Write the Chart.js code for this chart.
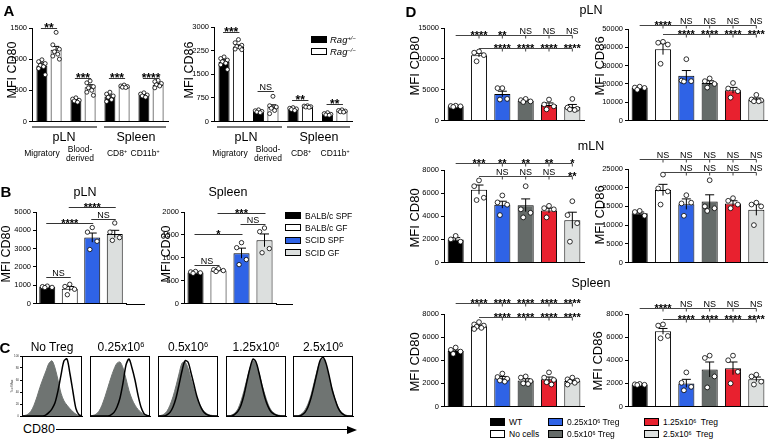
<!DOCTYPE html>
<html><head><meta charset="utf-8">
<script src="https://cdn.jsdelivr.net/npm/chart.js@4.4.1/dist/chart.umd.min.js"></script>
<style>
html,body{margin:0;padding:0;background:#fff;}
#root{position:relative;width:768px;height:440px;overflow:hidden;font-family:"Liberation Sans",Arial,Helvetica,sans-serif;color:#000;background:#fff;}
canvas{position:absolute;}
.t{position:absolute;transform:translate(-50%,-50%);white-space:nowrap;line-height:1;}
.l{position:absolute;white-space:nowrap;line-height:1;transform:translateY(-50%);}
.r{position:absolute;box-sizing:border-box;}
sup{font-size:62%;vertical-align:0;position:relative;top:-0.5em;}
</style></head><body><div id="root"></div>
<script>
// ---------------- DATA ----------------
// Panel A
const aCategories = ['Migratory', 'Blood-derived', 'CD8+', 'CD11b+'];
const aSeriesNames = ['Rag+/-', 'Rag-/-'];
const aCd80Het = [900, 340, 400, 420];
const aCd80HetSem = [40, 15, 25, 12];
const aCd80HetDots = [[990,960,930,900,880,850,750],[380,360,340,330,310],[470,440,410,390,350,320],[460,440,425,410,390]];
const aCd80Ko = [1150, 550, 560, 590];
const aCd80KoSem = [55, 40, 10, 20];
const aCd80KoDots = [[1430,1230,1160,1120,1080,1050,1000],[650,620,560,540,500,470,420],[585,570,560,550,545],[660,640,610,590,570,540]];
const aCd80Sig = ['**', '***', '***', '****'];
const aCd80SigLevel = [1500, 690, 690, 690];
const aCd86Het = [1900, 320, 390, 230];
const aCd86HetSem = [60, 20, 20, 15];
const aCd86HetDots = [[2050,2000,1950,1900,1850,1800,1650],[370,340,320,300,280],[440,420,400,380,350],[280,250,230,210,200]];
const aCd86Ko = [2380, 450, 470, 330];
const aCd86KoSem = [50, 80, 10, 15];
const aCd86KoDots = [[2600,2500,2420,2380,2350,2300,2280],[800,500,460,420,350,250],[500,490,470,460,450],[370,350,330,310,300]];
const aCd86Sig = ['***', 'NS', '**', '**'];
const aCd86SigLevel = [2840, 980, 675, 570];

// Panel B
const bCategories = ['BALB/c SPF', 'BALB/c GF', 'SCID SPF', 'SCID GF'];
const bPlnCd80 = [900, 800, 3600, 3800];
const bPlnCd80Sem = [30, 130, 250, 200];
const bPlnCd80Dots = [[950,920,880,870],[1050,930,780,480],[4150,3900,3400,2950],[4400,3900,3600,3450]];
const bPlnSig = [[0,1,1430,'NS'],[0,2,4420,'****'],[1,3,5250,'****'],[2,3,4620,'NS']];
const bSpleenCd80 = [680, 720, 1100, 1380];
const bSpleenCd80Sem = [10, 15, 110, 140];
const bSpleenCd80Dots = [[700,690,670,660],[760,740,720,700],[1330,1220,960,850],[1650,1570,1200,1110]];
const bSpleenSig = [[0,1,850,'NS'],[0,2,1520,'*'],[1,3,1980,'***'],[2,3,1740,'NS']];

// Panel C (histograms, % of max per channel bin)
const cTitles = ['No Treg', '0.25x10<sup>6</sup>', '0.5x10<sup>6</sup>', '1.25x10<sup>6</sup>', '2.5x10<sup>6</sup>'];
const histBins = [0,5,10,15,20,25,30,35,40,45,50,55,60,65,70,75,80,85,90,95,100];
const c1Gray  = [0,1,3,8,18,32,48,62,75,88,92,80,60,38,25,18,12,7,3,1,0];
const c1Black = [0,0,0,0,0,0,0,0,2,6,12,22,42,68,92,95,70,40,12,2,0];
const c2Gray  = [0,1,3,8,18,32,48,64,78,88,90,80,62,42,28,18,11,6,3,1,0];
const c2Black = [0,0,0,0,0,0,0,2,6,15,30,55,85,95,80,60,35,15,4,1,0];
const c3Gray  = [0,1,3,8,18,32,50,70,88,90,80,62,45,30,18,10,5,2,1,0,0];
const c3Black = [0,0,0,2,6,15,30,52,75,92,90,72,52,32,18,8,3,1,0,0,0];
const c4Gray  = [0,0,2,5,12,25,42,62,80,92,88,72,52,35,20,10,5,2,1,0,0];
const c4Black = [0,0,0,3,8,18,35,58,80,95,90,72,50,30,16,7,3,1,0,0,0];
const c5Gray  = [0,0,1,4,10,20,35,55,75,90,95,85,65,45,28,15,7,3,1,0,0];
const c5Black = [0,0,0,2,6,15,30,50,72,92,98,88,68,45,28,14,6,2,0,0,0];

// Panel D
const dCategories = ['WT', 'No cells', '0.25x10^6 Treg', '0.5x10^6 Treg', '1.25x10^6 Treg', '2.5x10^6 Treg'];
const dPlnCd80 = [2300, 10600, 4300, 3200, 2500, 2200];
const dPlnCd80Sem = [80, 300, 450, 150, 350, 400];
const dPlnCd80Dots = [[2400,2350,2300,2200],[11200,11000,10600,9600],[5250,5250,3500,3400],[3500,3300,3100,3000],[3400,2600,2300,1800],[3500,2100,1900,1800,1700]];
const dPlnCd80Sig1 = ['', '****', '**', 'NS', 'NS', 'NS'];
const dPlnCd80Sig2 = ['', '', '****', '****', '****', '****'];
const dPlnCd86 = [17800, 39000, 24500, 20500, 16500, 11500];
const dPlnCd86Sem = [400, 3000, 2800, 1200, 1600, 800];
const dPlnCd86Dots = [[18500,18000,17800,16800],[43000,42500,41500,31000],[33500,21800,21500,21300],[23000,21500,20000,18000],[20500,17500,16000,12500],[14000,11500,11000,10500,10500]];
const dPlnCd86Sig1 = ['', '****', 'NS', 'NS', 'NS', 'NS'];
const dPlnCd86Sig2 = ['', '', '****', '****', '****', '****'];
const dMlnCd80 = [2000, 6300, 5000, 4950, 4500, 3650];
const dMlnCd80Sem = [150, 400, 300, 550, 200, 700];
const dMlnCd80Dots = [[2300,2000,1800],[7100,6600,5600,5400],[5800,5200,5000,4100],[6600,4600,4300,3900],[4900,4700,4600,3900],[5300,4100,3400,1800]];
const dMlnCd80Sig1 = ['', '***', '**', '**', '**', '*'];
const dMlnCd80Sig2 = ['', '', 'NS', 'NS', 'NS', '**'];
const dMlnCd86 = [13200, 19400, 15600, 16300, 15800, 14100];
const dMlnCd86Sem = [300, 1500, 1400, 1800, 700, 1500];
const dMlnCd86Dots = [[13800,13500,12500],[23500,19800,19000,15500],[18000,15800,16000,12500],[22000,15000,14500,13800],[17200,16500,15500,14500],[16000,15500,15000,10000]];
const dMlnCd86Sig1 = ['', 'NS', 'NS', 'NS', 'NS', 'NS'];
const dMlnCd86Sig2 = ['', '', 'NS', 'NS', 'NS', 'NS'];
const dSpleenCd80 = [4800, 6950, 2450, 2250, 2350, 2200];
const dSpleenCd80Sem = [80, 90, 150, 150, 200, 80];
const dSpleenCd80Dots = [[5100,4900,4750,4550],[7300,7100,7000,6900,6800,6700],[2850,2550,2400,2250,2150],[2600,2500,2200,2000,1950],[2950,2500,2300,2100,1900],[2500,2350,2250,2150,2050,1900]];
const dSpleenCd80Sig1 = ['', '****', '****', '****', '****', '****'];
const dSpleenCd80Sig2 = ['', '', '****', '****', '****', '****'];
const dSpleenCd86 = [1900, 6500, 2000, 3200, 3300, 2350];
const dSpleenCd86Sem = [30, 250, 350, 650, 550, 200];
const dSpleenCd86Dots = [[1950,1920,1880,1860],[7100,7000,6100,5900],[2950,2050,1700,1400],[4400,4200,2600,1650],[4400,4000,3000,2000],[2750,2600,2150,1900]];
const dSpleenCd86Sig1 = ['', '****', 'NS', 'NS', 'NS', 'NS'];
const dSpleenCd86Sig2 = ['', '', '****', '****', '****', '****'];
const dSigLevels = { plnCd80:[13870,11730], plnCd86:[52200,47100], mlnCd80:[8580,7510], mlnCd86:[27580,24120], spCd80:[8920,7770], spCd86:[8490,7540] };

// ---------------- STYLE ----------------
const FONT = '"Liberation Sans", Arial, Helvetica, sans-serif';
const BLACK = '#000000', WHITE = '#ffffff', BLUE = '#2f63e6', DGRAY = '#656b69', RED = '#e8212f', LGRAY = '#dcdfde', HGRAY = '#6f7472';
const bColors = [BLACK, WHITE, BLUE, LGRAY];
const dColors = [BLACK, WHITE, BLUE, DGRAY, RED, LGRAY];
const JITTER = [0, -1, 1, -0.5, 0.5, -1, 1, 0];
Chart.defaults.font.family = FONT;
Chart.defaults.color = '#000';
const root = document.getElementById('root');

function addCanvas(left, top, w, h){
  const cv = document.createElement('canvas');
  cv.width = w; cv.height = h;
  cv.style.left = left + 'px'; cv.style.top = top + 'px';
  cv.style.width = w + 'px'; cv.style.height = h + 'px';
  root.appendChild(cv);
  return cv;
}

function drawSig(ctx, text, x, yy, starSize){
  ctx.fillStyle = '#000';
  ctx.textAlign = 'center';
  ctx.textBaseline = 'alphabetic';
  if (text.indexOf('*') >= 0) {
    ctx.font = 'bold ' + starSize + 'px ' + FONT;
    ctx.fillText(text, x, yy + starSize * 0.3);
  } else {
    ctx.font = '9px ' + FONT;
    ctx.fillText(text, x, yy - 2);
  }
}

const extrasPlugin = {
  id: 'extras',
  afterDatasetsDraw(chart, args, o){
    const ctx = chart.ctx, ys = chart.scales.y, ca = chart.chartArea;
    ctx.save();
    if (o.ext) {
      const by = Math.round(ca.bottom) + 0.5;
      ctx.strokeStyle = '#000'; ctx.lineWidth = 1;
      ctx.beginPath(); ctx.moveTo(ca.right, by); ctx.lineTo(ca.right + o.ext, by); ctx.stroke();
    }
    chart.data.datasets.forEach((ds, di) => {
      const meta = chart.getDatasetMeta(di);
      meta.data.forEach((bar, i) => {
        const w = bar.width, m = ds.data[i], e = ds.sem ? ds.sem[i] : 0;
        if (e) {
          const yt = ys.getPixelForValue(m + e), yb = ys.getPixelForValue(m - e);
          ctx.strokeStyle = '#000'; ctx.lineWidth = 1;
          ctx.beginPath();
          ctx.moveTo(bar.x, yt); ctx.lineTo(bar.x, yb);
          ctx.moveTo(bar.x - w * 0.28, yt); ctx.lineTo(bar.x + w * 0.28, yt);
          ctx.stroke();
        }
        const pts = ds.dots ? ds.dots[i] : null;
        if (pts) {
          pts.forEach((v, j) => {
            const px = bar.x + JITTER[j % JITTER.length] * w * 0.3;
            const py = ys.getPixelForValue(v);
            ctx.beginPath(); ctx.arc(px, py, o.dotR, 0, Math.PI * 2);
            ctx.fillStyle = '#fff'; ctx.fill();
            ctx.strokeStyle = '#000'; ctx.lineWidth = 0.8; ctx.stroke();
          });
        }
      });
    });
    (o.brackets || []).forEach(b => {
      const xa = chart.getDatasetMeta(b.a[0]).data[b.a[1]].x;
      const xb = chart.getDatasetMeta(b.b[0]).data[b.b[1]].x;
      const yy = Math.round(ys.getPixelForValue(b.v)) + 0.5;
      ctx.strokeStyle = '#333'; ctx.lineWidth = 1;
      ctx.beginPath(); ctx.moveTo(xa - 1, yy); ctx.lineTo(xb + 1, yy); ctx.stroke();
      drawSig(ctx, b.t, (xa + xb) / 2, yy, o.starSize);
    });
    (o.rows || []).forEach(r => {
      const meta = chart.getDatasetMeta(0), n = meta.data.length;
      const yy = Math.round(ys.getPixelForValue(r.v)) + 0.5;
      ctx.strokeStyle = '#444'; ctx.lineWidth = 1;
      ctx.beginPath();
      ctx.moveTo(meta.data[r.from].x, yy); ctx.lineTo(meta.data[n - 1].x, yy);
      r.labels.forEach((lab, i) => { if (lab) { ctx.moveTo(meta.data[i].x, yy); ctx.lineTo(meta.data[i].x, yy + 3); } });
      ctx.stroke();
      r.labels.forEach((lab, i) => { if (lab) drawSig(ctx, lab, meta.data[i].x, yy, o.starSize); });
    });
    ctx.restore();
  }
};

function makeBar(o){
  const yw = 32, pt = 26, pr = (o.ext || 0) + 4, pb = 6;
  const left = Math.round(o.x0 - yw), top = Math.round(o.yTop - pt);
  const cw = Math.round(o.x1 - o.x0), chh = Math.round(o.yBot - o.yTop);
  const cv = addCanvas(left, top, cw + yw + pr, chh + pt + pb);
  o.datasets.forEach(ds => {
    ds.borderColor = '#000'; ds.borderWidth = 1;
    ds.categoryPercentage = o.catPct; ds.barPercentage = o.barPct;
  });
  new Chart(cv, {
    type: 'bar',
    data: { labels: o.labels, datasets: o.datasets },
    options: {
      responsive: false, animation: false, devicePixelRatio: 1,
      layout: { padding: { top: pt, right: pr, bottom: pb, left: 0 } },
      plugins: {
        legend: { display: false }, tooltip: { enabled: false },
        extras: { ext: o.ext || 0, brackets: o.brackets, rows: o.rows, dotR: o.dotR, starSize: o.starSize }
      },
      scales: {
        x: { ticks: { display: false }, grid: { display: false }, border: { color: '#000', width: 1 },
             afterFit: s => { s.height = 0; } },
        y: { min: 0, max: o.max,
             ticks: { stepSize: o.step, font: { size: 7.5, family: FONT }, color: '#000', padding: 2,
                      callback: v => String(v) },
             grid: { drawOnChartArea: false, drawTicks: true, tickLength: 3, color: '#000' },
             border: { color: '#000', width: 1 },
             afterFit: s => { s.width = yw; } }
      }
    },
    plugins: [extrasPlugin]
  });
}

const framePlugin = {
  id: 'frame',
  afterDraw(chart){
    const ctx = chart.ctx, a = chart.chartArea;
    ctx.save(); ctx.strokeStyle = '#000'; ctx.lineWidth = 1;
    ctx.strokeRect(Math.round(a.left) + 0.5, Math.round(a.top) + 0.5, Math.round(a.right - a.left) - 1, Math.round(a.bottom - a.top));
    ctx.restore();
  }
};

function makeHist(bx, gray, black, first){
  const yw = first ? 9 : 2, pt = 3, pr = 2, pb = 3;
  const cv = addCanvas(bx - yw, 356 - pt, 60 + yw + pr, 60 + pt + pb);
  new Chart(cv, {
    type: 'line',
    data: { labels: histBins, datasets: [
      { data: black, borderColor: '#000', borderWidth: 1.5, fill: false, pointRadius: 0, tension: 0.3 },
      { data: gray, borderColor: HGRAY, backgroundColor: HGRAY, borderWidth: 1, fill: 'origin', pointRadius: 0, tension: 0.3 }
    ]},
    options: {
      responsive: false, animation: false, devicePixelRatio: 1,
      layout: { padding: { top: pt, right: pr, bottom: pb, left: 0 } },
      plugins: { legend: { display: false }, tooltip: { enabled: false } },
      scales: {
        x: { offset: false, grid: { display: false }, ticks: { display: false }, border: { color: '#000' },
             afterFit: s => { s.height = 0; } },
        y: { min: 0, max: 100,
             ticks: { display: first, stepSize: 20, font: { size: 3 }, padding: 1, color: '#333' },
             grid: { drawOnChartArea: false, drawTicks: first, tickLength: 2, color: '#000' },
             border: { color: '#000' },
             afterFit: s => { s.width = yw; } }
      }
    },
    plugins: [framePlugin]
  });
}

// ---------------- HTML TEXT HELPERS ----------------
function txt(x, y, html, size, extra){
  const d = document.createElement('div');
  d.className = 't'; d.style.left = x + 'px'; d.style.top = y + 'px'; d.style.fontSize = size + 'px';
  if (extra) Object.assign(d.style, extra);
  d.innerHTML = html; root.appendChild(d); return d;
}
function ytitle(x, y, text, size){
  const d = txt(x, y, text, size);
  d.style.transform = 'translate(-50%,-50%) rotate(-90deg)';
}
function ltxt(x, y, html, size, extra){
  const d = document.createElement('div');
  d.className = 'l'; d.style.left = x + 'px'; d.style.top = y + 'px'; d.style.fontSize = size + 'px';
  if (extra) Object.assign(d.style, extra);
  d.innerHTML = html; root.appendChild(d); return d;
}
function rect(x, y, w, h, fill, border){
  const d = document.createElement('div');
  d.className = 'r';
  Object.assign(d.style, { left: x + 'px', top: y + 'px', width: w + 'px', height: h + 'px', background: fill,
    border: border ? ('1px solid ' + border) : 'none' });
  root.appendChild(d); return d;
}

// ---------------- PANEL A ----------------
function aSets(het, hetSem, hetDots, ko, koSem, koDots){
  return [
    { label: aSeriesNames[0], data: het, sem: hetSem, dots: hetDots, backgroundColor: BLACK },
    { label: aSeriesNames[1], data: ko, sem: koSem, dots: koDots, backgroundColor: WHITE }
  ];
}
function aBrackets(sig, lv){ return sig.map((t, i) => ({ a: [0, i], b: [1, i], v: lv[i], t: t })); }

makeBar({ x0: 32, x1: 168, yTop: 28, yBot: 122, max: 1500, step: 500, labels: aCategories,
  datasets: aSets(aCd80Het, aCd80HetSem, aCd80HetDots, aCd80Ko, aCd80KoSem, aCd80KoDots),
  catPct: 0.835, barPct: 0.77, dotR: 2, starSize: 12, brackets: aBrackets(aCd80Sig, aCd80SigLevel) });
makeBar({ x0: 214, x1: 352, yTop: 27, yBot: 122, max: 3000, step: 750, labels: aCategories,
  datasets: aSets(aCd86Het, aCd86HetSem, aCd86HetDots, aCd86Ko, aCd86KoSem, aCd86KoDots),
  catPct: 0.835, barPct: 0.77, dotR: 2, starSize: 12, brackets: aBrackets(aCd86Sig, aCd86SigLevel) });

// ---------------- PANEL B ----------------
function bBrackets(sig){ return sig.map(s => ({ a: [0, s[0]], b: [0, s[1]], v: s[2], t: s[3] })); }
makeBar({ x0: 36, x1: 125.6, yTop: 212, yBot: 304, max: 5000, step: 1000, labels: bCategories, ext: 19,
  datasets: [{ data: bPlnCd80, sem: bPlnCd80Sem, dots: bPlnCd80Dots, backgroundColor: bColors }],
  catPct: 1, barPct: 0.71, dotR: 2.2, starSize: 11, brackets: bBrackets(bPlnSig) });
makeBar({ x0: 183.5, x1: 275.5, yTop: 212, yBot: 304, max: 2000, step: 500, labels: bCategories, ext: 17,
  datasets: [{ data: bSpleenCd80, sem: bSpleenCd80Sem, dots: bSpleenCd80Dots, backgroundColor: bColors }],
  catPct: 1, barPct: 0.7, dotR: 2.2, starSize: 11, brackets: bBrackets(bSpleenSig) });

// ---------------- PANEL C ----------------
const cBoxLefts = [22, 90, 158, 226, 293];
const cGray = [c1Gray, c2Gray, c3Gray, c4Gray, c5Gray];
const cBlack = [c1Black, c2Black, c3Black, c4Black, c5Black];
cBoxLefts.forEach((bx, i) => makeHist(bx, cGray[i], cBlack[i], i === 0));

// ---------------- PANEL D ----------------
function dPanel(x0, yTop, yBot, max, step, vals, sem, dots, s1, s2, lv){
  makeBar({ x0: x0, x1: x0 + 139.5, yTop: yTop, yBot: yBot, max: max, step: step, labels: dCategories,
    datasets: [{ data: vals, sem: sem, dots: dots, backgroundColor: dColors }],
    catPct: 1, barPct: 0.69, dotR: 2.4, starSize: 11,
    rows: [{ from: 0, v: lv[0], labels: s1 }, { from: 1, v: lv[1], labels: s2 }] });
}
dPanel(443.5, 28, 121, 15000, 5000, dPlnCd80, dPlnCd80Sem, dPlnCd80Dots, dPlnCd80Sig1, dPlnCd80Sig2, dSigLevels.plnCd80);
dPanel(627.5, 29, 121, 50000, 10000, dPlnCd86, dPlnCd86Sem, dPlnCd86Dots, dPlnCd86Sig1, dPlnCd86Sig2, dSigLevels.plnCd86);
dPanel(443.5, 170, 263, 8000, 2000, dMlnCd80, dMlnCd80Sem, dMlnCd80Dots, dMlnCd80Sig1, dMlnCd80Sig2, dSigLevels.mlnCd80);
dPanel(627.5, 169, 263, 25000, 5000, dMlnCd86, dMlnCd86Sem, dMlnCd86Dots, dMlnCd86Sig1, dMlnCd86Sig2, dSigLevels.mlnCd86);
dPanel(443.5, 314, 407, 8000, 2000, dSpleenCd80, dSpleenCd80Sem, dSpleenCd80Dots, dSpleenCd80Sig1, dSpleenCd80Sig2, dSigLevels.spCd80);
dPanel(627.5, 314, 407, 8000, 2000, dSpleenCd86, dSpleenCd86Sem, dSpleenCd86Dots, dSpleenCd86Sig1, dSpleenCd86Sig2, dSigLevels.spCd86);

// ---------------- TEXT / LABELS ----------------
txt(9, 10, 'A', 15, { fontWeight: 'bold' });
txt(6, 191, 'B', 15, { fontWeight: 'bold' });
txt(5, 347, 'C', 15, { fontWeight: 'bold' });
txt(411, 11, 'D', 15, { fontWeight: 'bold' });

ytitle(12, 70, 'MFI CD80', 12.5);
ytitle(189, 70, 'MFI CD86', 12.5);
rect(32, 126, 65, 1.5, '#777');
rect(104, 126, 62, 1.5, '#777');
rect(217, 126, 65, 1.5, '#777');
rect(287, 126, 63, 1.5, '#777');
txt(64, 137, 'pLN', 12.5); txt(136, 137, 'Spleen', 12.5);
txt(246, 137, 'pLN', 12.5); txt(319, 137, 'Spleen', 12.5);
[[42, 230], [80, 268], [117, 301], [145, 335]].forEach((p, i) => {
  p.forEach(x => {
    if (i === 1) { txt(x, 149, 'Blood-', 8.5); txt(x, 158, 'derived', 8.5); }
    else txt(x, 153, ['Migratory', '', 'CD8<sup>+</sup>', 'CD11b<sup>+</sup>'][i], 8.5);
  });
});
rect(311, 36, 16, 7, BLACK, '#000');
rect(311, 48, 16, 7, WHITE, '#000');
ltxt(330, 39.5, '<i>Rag</i><sup><i>+/−</i></sup>', 9.5);
ltxt(330, 51.5, '<i>Rag</i><sup><i>−/−</i></sup>', 9.5);

txt(85, 192, 'pLN', 12.5); txt(228, 192, 'Spleen', 12.5);
ytitle(6, 254, 'MFI CD80', 12.5);
ytitle(166, 254, 'MFI CD80', 12.5);
[[212, BLACK], [224, WHITE], [236.5, BLUE], [249, LGRAY]].forEach((r, i) => {
  rect(285, r[0], 16, 7, r[1], '#000');
  ltxt(305, r[0] + 3.8, bCategories[i], 8.5);
});

[52, 121, 188, 256, 323].forEach((x, i) => txt(x, 347, cTitles[i], 12));
txt(12, 386, '% of Max', 3, { transform: 'translate(-50%,-50%) rotate(-90deg)', color: '#333' });
txt(39, 429, 'CD80', 12.5);
rect(56, 428.5, 292, 1.5, '#000');
const arrow = document.createElement('div');
Object.assign(arrow.style, { position: 'absolute', left: '347px', top: '425.5px', width: 0, height: 0,
  borderTop: '4px solid transparent', borderBottom: '4px solid transparent', borderLeft: '10px solid #000' });
root.appendChild(arrow);

txt(591, 10, 'pLN', 12.5); txt(591, 146, 'mLN', 12.5); txt(591, 283, 'Spleen', 12.5);
ytitle(414, 66, 'MFI CD80', 13); ytitle(599, 66, 'MFI CD86', 13);
ytitle(414, 218, 'MFI CD80', 13); ytitle(599, 215, 'MFI CD86', 13);
ytitle(414, 362, 'MFI CD80', 13); ytitle(597, 361, 'MFI CD86', 13);
const dLegend = [
  [490, 418, BLACK, 'WT'], [490, 430, WHITE, 'No cells'],
  [548, 418, BLUE, '0.25x10<sup>6</sup> Treg'], [548, 430, DGRAY, '0.5x10<sup>6</sup> Treg'],
  [644, 418, RED, '1.25x10<sup>6</sup>&nbsp; Treg'], [644, 430, LGRAY, '2.5x10<sup>6</sup>&nbsp; Treg']
];
dLegend.forEach(l => { rect(l[0], l[1], 15, 8, l[2], '#000'); ltxt(l[0] + 19, l[1] + 4.3, l[3], 8.5); });
</script></body></html>
